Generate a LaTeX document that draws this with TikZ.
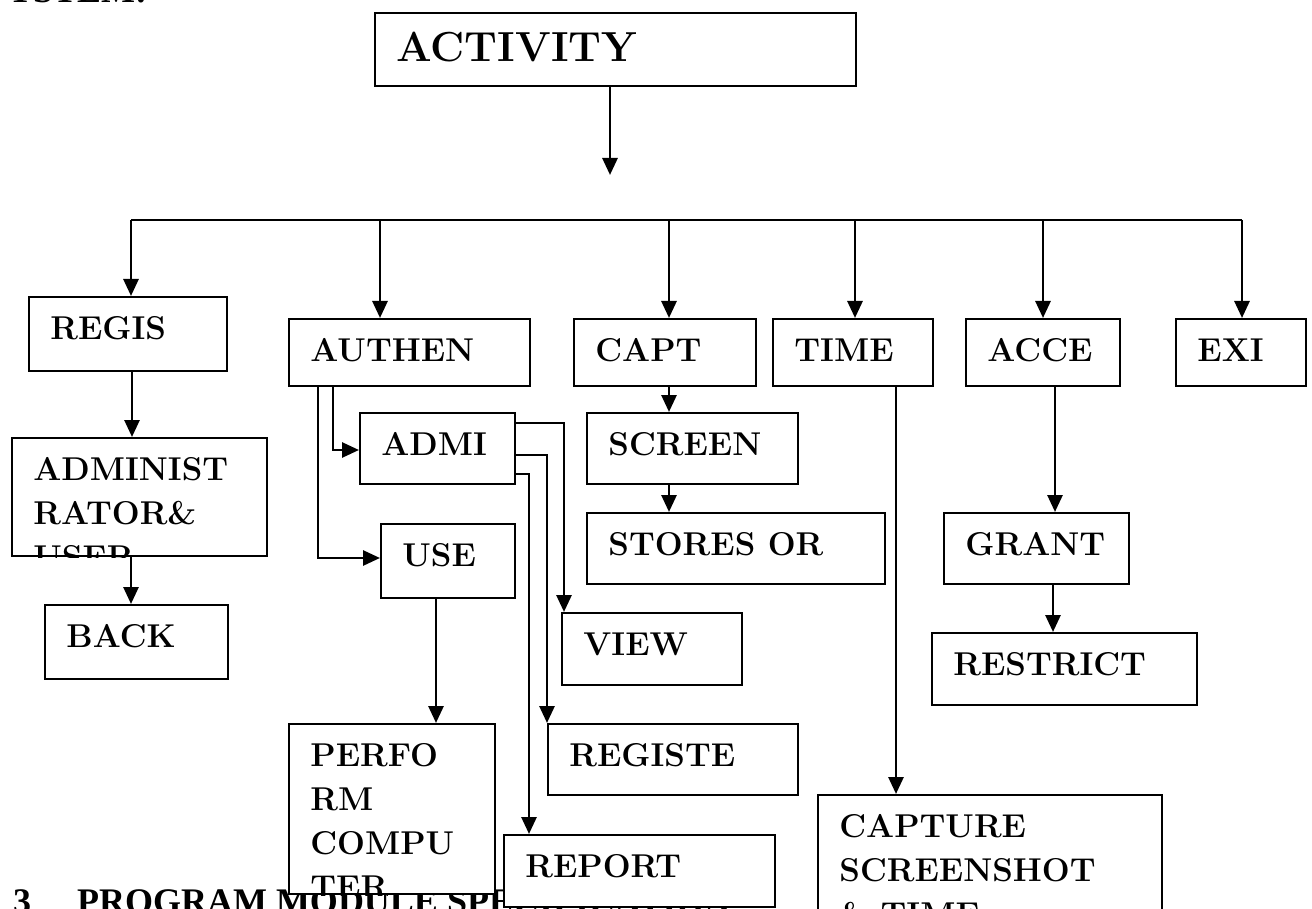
\documentclass[tikz,border=0pt]{standalone}
\usepackage{fontspec}
\usetikzlibrary{arrows.meta}
\newfontfamily\headfont{Liberation Serif}
\newcommand{\boxfont}{\fontsize{16.5}{22}\selectfont\bfseries}
\newcommand{\bigboxfont}{\fontsize{21}{26}\selectfont\bfseries}
\tikzstyle{box}=[draw,line width=1pt,fill=white,anchor=north west,inner sep=0pt]
\tikzstyle{boxtext}=[anchor=north west,inner sep=0pt,align=left]
\tikzstyle{conn}=[-{Triangle[length=8.5pt,width=7.5pt]},line width=1.4pt]
\tikzstyle{wire}=[line width=1.4pt]
% box from (x1,y1) to (x2,y2) in pixels, text clipped by the frame
\newcommand{\flowbox}[7][\boxfont]{
\pgfmathsetmacro{\bw}{(#5-#3)*0.5}
\pgfmathsetmacro{\bh}{(#6-#4)*0.5}
\node[box,minimum width=\bw pt,minimum height=\bh pt] (#2) at (#3,#4) {};
\begin{scope}
\clip (#2.south west) rectangle (#2.north east);
\node[boxtext,font=#1] at ([shift={(11pt,-10pt)}]#2.north west) {#7};
\end{scope}
}

\begin{document}
\begin{tikzpicture}[x=0.5pt,y=-0.5pt]
\useasboundingbox (0,0) rectangle (1312,909);

% headings of the page
\node[anchor=base west,font=\headfont\bfseries\fontsize{18}{20}\selectfont] (headtop) at (0,3) {YSTEM:};
\node[anchor=base west,font=\headfont\bfseries\fontsize{18}{20}\selectfont] (headbot) at (6,913) {3\hspace{23pt}PROGRAM MODULE SPECIFICATION};

% boxes
\flowbox[\bigboxfont]{activity}{374}{12}{855}{85}{ACTIVITY}
\flowbox{regis}{28}{296}{226}{370}{REGIS}
\flowbox{authen}{288}{318}{529}{385}{AUTHEN}
\flowbox{capt}{573}{318}{755}{385}{CAPT}
\flowbox{time}{772}{318}{932}{385}{TIME}
\flowbox{acce}{965}{318}{1119}{385}{ACCE}
\flowbox{exit}{1175}{318}{1305}{385}{EXI}
\flowbox{admuser}{11}{437}{266}{555}{ADMINIST\\RATOR\&\\USER}
\flowbox{back}{44}{604}{227}{678}{BACK}
\flowbox{admi}{359}{412}{514}{483}{ADMI}
\flowbox{use}{380}{523}{514}{597}{USE}
\flowbox{perform}{288}{723}{494}{893}{PERFO\\RM\\COMPU\\TER}
\flowbox{view}{561}{612}{741}{684}{VIEW}
\flowbox{registe}{547}{723}{797}{794}{REGISTE}
\flowbox{report}{503}{834}{774}{906}{REPORT}
\flowbox{screen}{586}{412}{797}{483}{SCREEN}
\flowbox{stores}{586}{512}{884}{583}{STORES OR}
\flowbox{capture}{817}{794}{1161}{935}{CAPTURE\\SCREENSHOT\\\& TIME}
\flowbox{grant}{943}{512}{1128}{583}{GRANT}
\flowbox{restrict}{931}{632}{1196}{704}{RESTRICT}

% main branch
\coordinate (split) at (610,175);
\coordinate (busL) at (131,220);
\coordinate (busR) at (1242,220);
\draw[conn] (activity.south -| split) -- (split);
\draw[wire] (busL) -- (busR);
\foreach \n/\x in {regis/131,authen/380,capt/669,time/855,acce/1043,exit/1242}
  \draw[conn] (\x,220) -- (\x,0 |- \n.north);

% left column
\draw[conn] (132,0 |- regis.south) -- (132,0 |- admuser.north);
\draw[conn] (131,0 |- admuser.south) -- (131,0 |- back.north);

% authentication
\draw[conn] (333,0 |- authen.south) |- (admi.west |- 0,450);
\draw[conn] (318,0 |- authen.south) |- (use.west |- 0,558);
\draw[conn] (436,0 |- use.south) -- (436,0 |- perform.north);
\draw[conn] (admi.east |- 0,423) -| (564,0 |- view.north);
\draw[conn] (admi.east |- 0,455) -| (547,0 |- registe.north);
\draw[conn] (admi.east |- 0,474) -| (529,0 |- report.north);

% capture, time, access
\draw[conn] (669,0 |- capt.south) -- (669,0 |- screen.north);
\draw[conn] (669,0 |- screen.south) -- (669,0 |- stores.north);
\draw[conn] (896,0 |- time.south) -- (896,0 |- capture.north);
\draw[conn] (1055,0 |- acce.south) -- (1055,0 |- grant.north);
\draw[conn] (1053,0 |- grant.south) -- (1053,0 |- restrict.north);
\end{tikzpicture}
\end{document}
